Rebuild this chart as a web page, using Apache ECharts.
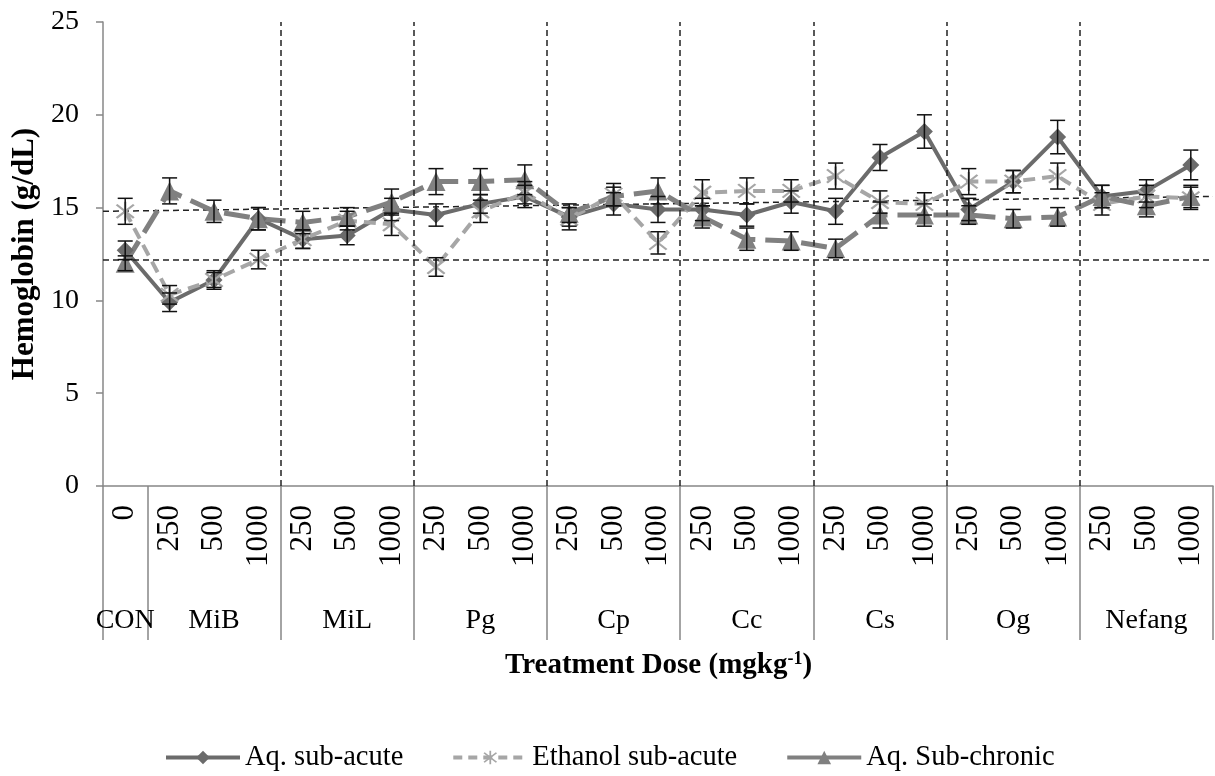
<!DOCTYPE html>
<html><head><meta charset="utf-8">
<script src="https://cdn.jsdelivr.net/npm/echarts@6/dist/echarts.min.js"></script>
<style>html,body{margin:0;padding:0;background:#fff}#c{width:1215px;height:776px}</style>
</head><body><div id="c"></div>
<script>
// ---- data ----
const doseLabels = ['0','250','500','1000','250','500','1000','250','500','1000','250','500','1000',
  '250','500','1000','250','500','1000','250','500','1000','250','500','1000'];
const groupNames = ['CON','MiB','MiL','Pg','Cp','Cc','Cs','Og','Nefang'];
const groupSizes = [1,3,3,3,3,3,3,3,3];
const yTicks = [0,5,10,15,20,25];

const aqSubAcute    = [12.7, 9.9,11.1,14.4, 13.3,13.5,14.9, 14.6,15.2,15.6, 14.5,15.2,14.9, 14.9,14.6,15.3, 14.8,17.7,19.1, 14.9,16.4,18.8, 15.6,15.9,17.3];
const aqSubAcuteErr = [0.5, 0.5,0.5,0.6, 0.5,0.5,0.6, 0.6,0.5,0.6, 0.5,0.6,0.7, 0.6,0.6,0.6, 0.7,0.7,0.9, 0.6,0.6,0.9, 0.6,0.6,0.8];
const ethanolSubAcute = [14.8, 10.3,11.1,12.2, 13.3,14.3,14.1, 11.8,14.8,15.8, 14.4,15.7,13.1, 15.8,15.9,15.9, 16.7,15.3,15.2, 16.4,16.4,16.7, 15.2,15.6,15.5];
const ethanolErr      = [0.7, 0.5,0.4,0.5, 0.5,0.5,0.6, 0.5,0.6,0.6, 0.6,0.6,0.6, 0.7,0.7,0.6, 0.7,0.6,0.6, 0.7,0.6,0.7, 0.6,0.6,0.6];
const aqSubChronic    = [12.0, 15.9,14.8,14.4, 14.2,14.5,15.3, 16.4,16.4,16.5, 14.7,15.6,15.9, 14.5,13.3,13.2, 12.8,14.6,14.6, 14.6,14.4,14.5, 15.6,15.1,15.6];
const aqSubChronicErr = [0.4, 0.7,0.6,0.6, 0.6,0.5,0.7, 0.7,0.7,0.8, 0.5,0.5,0.7, 0.6,0.6,0.5, 0.5,0.7,0.6, 0.5,0.5,0.5, 0.6,0.6,0.6];

const refUpper = [14.8, 15.6];   // sloped dashed reference line (start, end)
const refLower = 12.2;           // horizontal dashed reference line

// ---- derived ----
const boundaries = [];
let acc = 0;
groupSizes.forEach(s => { boundaries.push(acc); acc += s; });
const nCat = acc;
const groupLabelData = doseLabels.map(() => '');
boundaries.forEach((b, gi) => { groupLabelData[b + Math.floor(groupSizes[gi] / 2)] = groupNames[gi]; });
const tickSet = new Set(boundaries.concat([nCat]));
const dashedBoundaries = boundaries.slice(2);

const FONT = 'Liberation Serif';
const asterisk = 'path://M9 0L11 0L11 20L9 20Z M16.36 2.22L17.78 3.64L3.64 17.78L2.22 16.36Z M2.22 3.64L3.64 2.22L17.78 16.36L16.36 17.78Z';

function errSeries(vals, errs) {
  return {
    type: 'custom', xAxisIndex: 0, yAxisIndex: 0, z: 5, silent: true,
    data: vals.map((v, i) => [i, v - errs[i], v + errs[i]]),
    renderItem: function (params, api) {
      const lo = api.coord([api.value(0), api.value(1)]);
      const hi = api.coord([api.value(0), api.value(2)]);
      const w = 7.5;
      const st = { stroke: '#111', lineWidth: 1.5 };
      return { type: 'group', children: [
        { type: 'line', shape: { x1: lo[0], y1: lo[1], x2: hi[0], y2: hi[1] }, style: st },
        { type: 'line', shape: { x1: lo[0]-w, y1: lo[1], x2: lo[0]+w, y2: lo[1] }, style: st },
        { type: 'line', shape: { x1: hi[0]-w, y1: hi[1], x2: hi[0]+w, y2: hi[1] }, style: st }
      ]};
    }
  };
}

const chart = echarts.init(document.getElementById('c'), null, { renderer: 'canvas' });
chart.setOption({
  animation: false,
  backgroundColor: '#fff',
  textStyle: { fontFamily: FONT },
  grid: { left: 103, right: 2, top: 22, bottom: 290, containLabel: false },
  title: {
    text: 'Treatment Dose (mgkg{sup|-1})',
    left: 500, top: 645,
    textStyle: { fontFamily: FONT, fontWeight: 'bold', fontSize: 29, color: '#000',
      rich: { sup: { fontFamily: FONT, fontWeight: 'bold', fontSize: 18, color: '#000', verticalAlign: 'top', padding: [0,0,14,0] } } }
  },
  legend: {
    data: [
      { name: 'Aq. sub-acute', lineStyle: { width: 4, type: 'solid' } },
      { name: 'Ethanol sub-acute', lineStyle: { width: 4, type: [9, 6] } },
      { name: 'Aq. Sub-chronic', lineStyle: { width: 4, type: 'solid' } }
    ],
    left: 159, top: 738, itemWidth: 74, itemHeight: 17, itemGap: 48,
    textStyle: { fontFamily: FONT, fontSize: 28.5, color: '#000' }
  },
  xAxis: [
    { type: 'category', data: doseLabels, position: 'bottom', boundaryGap: true,
      axisLine: { show: true, lineStyle: { color: '#878787', width: 1.5 } },
      axisTick: { show: true, length: 154, interval: (i) => tickSet.has(i), lineStyle: { color: '#878787', width: 1.5 } },
      axisLabel: { rotate: 90, interval: 0, fontSize: 31, color: '#000', fontFamily: FONT, margin: 19 },
      splitLine: { show: false } },
    { type: 'category', data: groupLabelData, position: 'bottom', offset: 117, boundaryGap: true,
      axisLine: { show: false }, axisTick: { show: false },
      axisLabel: { interval: 0, fontSize: 28, color: '#000', fontFamily: FONT, margin: 4 } },
    { type: 'value', min: 0, max: nCat, show: false }
  ],
  yAxis: {
    type: 'value', min: yTicks[0], max: yTicks[yTicks.length - 1], interval: yTicks[1] - yTicks[0],
    name: 'Hemoglobin (g/dL)', nameLocation: 'middle', nameGap: 56, nameRotate: 90,
    nameTextStyle: { fontFamily: FONT, fontWeight: 'bold', fontSize: 31, color: '#000' },
    axisLine: { show: true, lineStyle: { color: '#878787', width: 1.5 } },
    axisTick: { show: true, length: 7, lineStyle: { color: '#878787', width: 1.5 } },
    axisLabel: { fontSize: 28, color: '#000', fontFamily: FONT, margin: 24 },
    splitLine: { show: false }
  },
  series: [
    { type: 'line', xAxisIndex: 2, yAxisIndex: 0, silent: true, symbol: 'none', z: 1,
      data: [[0, refUpper[0]], [nCat, refUpper[1]]],
      lineStyle: { color: '#222', width: 1.5, type: [6, 4] },
      markLine: { silent: true, symbol: 'none', label: { show: false },
        lineStyle: { color: '#222', width: 1.5, type: [6, 4] },
        data: dashedBoundaries.map(b => ({ xAxis: b })).concat([{ yAxis: refLower }]) } },
    { name: 'Aq. sub-acute', type: 'line', xAxisIndex: 0, data: aqSubAcute, z: 3,
      symbol: 'diamond', symbolSize: 17, color: '#6b6b6b',
      lineStyle: { color: '#6b6b6b', width: 4 }, itemStyle: { color: '#6b6b6b' } },
    { name: 'Ethanol sub-acute', type: 'line', xAxisIndex: 0, data: ethanolSubAcute, z: 3,
      symbol: asterisk, symbolSize: 19, color: '#a6a6a6',
      lineStyle: { color: '#a6a6a6', width: 4, type: [12, 7] }, itemStyle: { color: '#a6a6a6' } },
    { name: 'Aq. Sub-chronic', type: 'line', xAxisIndex: 0, data: aqSubChronic, z: 3,
      symbol: 'triangle', symbolSize: 19, color: '#808080',
      lineStyle: { color: '#808080', width: 5, type: [26, 10] }, itemStyle: { color: '#808080' } },
    errSeries(aqSubAcute, aqSubAcuteErr),
    errSeries(ethanolSubAcute, ethanolErr),
    errSeries(aqSubChronic, aqSubChronicErr)
  ]
});
</script></body></html>
